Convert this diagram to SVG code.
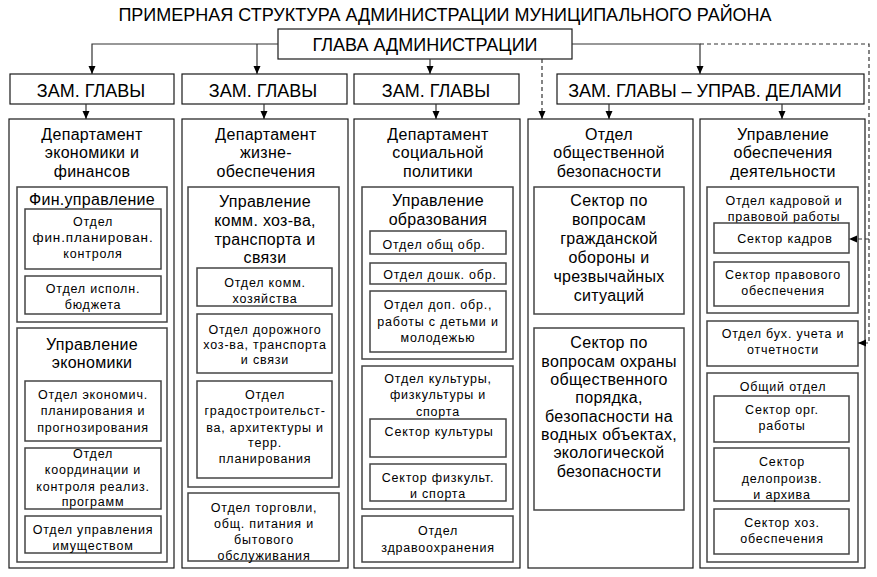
<svg xmlns="http://www.w3.org/2000/svg" width="877" height="577" viewBox="0 0 877 577">
<style>
text{font-family:"Liberation Sans",Arial,sans-serif;fill:#000;text-anchor:middle}
.h{font-size:18px}
.m{font-size:16px;letter-spacing:0.3px}
.s{font-size:12.5px;letter-spacing:0.8px}
.outer{fill:#fff;stroke:#1a1a1a;stroke-width:1.2}
.box{fill:#fff;stroke:#444;stroke-width:1.5}
.ln{fill:none;stroke:#333;stroke-width:1.2}
.dash{fill:none;stroke:#333;stroke-width:1.2;stroke-dasharray:4 3}
</style>
<defs>
<marker id="ah" markerWidth="8" markerHeight="8" refX="8" refY="3.5" orient="auto" markerUnits="userSpaceOnUse"><path d="M0,0 L8,3.5 L0,7 z" fill="#000"/></marker>
</defs>
<rect width="877" height="577" fill="#fff"/>
<text id="title" class="h" x="445" y="21">ПРИМЕРНАЯ СТРУКТУРА АДМИНИСТРАЦИИ МУНИЦИПАЛЬНОГО РАЙОНА</text>

<g id="head">
<rect class="outer" x="278" y="29" width="294" height="30"/>
<text class="h" x="425" y="51">ГЛАВА АДМИНИСТРАЦИИ</text>
</g>
<g id="deputy1"><rect class="outer" x="10" y="74" width="164" height="30"/><text class="h" x="91" y="97">ЗАМ. ГЛАВЫ</text></g>
<g id="deputy2"><rect class="outer" x="182" y="74" width="165" height="30"/><text class="h" x="263" y="97">ЗАМ. ГЛАВЫ</text></g>
<g id="deputy3"><rect class="outer" x="354" y="74" width="165" height="30"/><text class="h" x="436" y="97">ЗАМ. ГЛАВЫ</text></g>
<g id="deputy4"><rect class="outer" x="557" y="74" width="307" height="30"/><text class="h" x="705" y="97">ЗАМ. ГЛАВЫ – УПРАВ. ДЕЛАМИ</text></g>

<!-- Column 1 -->
<g id="dep-econ">
<rect class="outer" x="9" y="119" width="165" height="449"/>
<text class="m" x="92" y="139.5">Департамент</text>
<text class="m" x="92" y="158">экономики и</text>
<text class="m" x="92" y="176.5">финансов</text>
</g>
<g id="fin-upr">
<rect class="box" x="17" y="187" width="150" height="135"/>
<text class="m" x="92" y="205">Фин.управление</text>
</g>
<g id="otd-finplan">
<rect class="box" x="25" y="209" width="136" height="60"/>
<text class="s" x="93" y="226">Отдел</text>
<text class="s" x="93" y="242" textLength="121" lengthAdjust="spacingAndGlyphs">фин.планирован.</text>
<text class="s" x="93" y="258">контроля</text>
</g>
<g id="otd-ispoln">
<rect class="box" x="25" y="276" width="136" height="38"/>
<text class="s" x="93" y="292.5">Отдел исполн.</text>
<text class="s" x="93" y="308.5">бюджета</text>
</g>
<g id="upr-econ">
<rect class="box" x="17" y="328" width="150" height="234"/>
<text class="m" x="92" y="349.5">Управление</text>
<text class="m" x="92" y="368">экономики</text>
</g>
<g id="otd-econplan">
<rect class="box" x="25" y="381" width="136" height="60"/>
<text class="s" x="93" y="398.5">Отдел экономич.</text>
<text class="s" x="93" y="415">планирования и</text>
<text class="s" x="93" y="431.5">прогнозирования</text>
</g>
<g id="otd-koord">
<rect class="box" x="25" y="448" width="136" height="61"/>
<text class="s" x="93" y="458">Отдел</text>
<text class="s" x="93" y="474">координации и</text>
<text class="s" x="93" y="490.5">контроля реализ.</text>
<text class="s" x="93" y="506">программ</text>
</g>
<g id="otd-imush">
<rect class="box" x="25" y="516" width="136" height="37"/>
<text class="s" x="93" y="534">Отдел управления</text>
<text class="s" x="93" y="550">имуществом</text>
</g>

<!-- Column 2 -->
<g id="dep-zhizn">
<rect class="outer" x="182" y="119" width="166" height="449"/>
<text class="m" x="266" y="139.5">Департамент</text>
<text class="m" x="266" y="158">жизне-</text>
<text class="m" x="266" y="176.5">обеспечения</text>
</g>
<g id="upr-komm">
<rect class="box" x="188" y="187" width="151" height="300"/>
<text class="m" x="265" y="206.5">Управление</text>
<text class="m" x="265" y="225.5">комм. хоз-ва,</text>
<text class="m" x="265" y="244.5">транспорта и</text>
<text class="m" x="265" y="263">связи</text>
</g>
<g id="otd-komm">
<rect class="box" x="197" y="268" width="135" height="38"/>
<text class="s" x="265" y="287">Отдел комм.</text>
<text class="s" x="265" y="303">хозяйства</text>
</g>
<g id="otd-dor">
<rect class="box" x="197" y="314" width="135" height="59"/>
<text class="s" x="265" y="333.5">Отдел дорожного</text>
<text class="s" x="265" y="348.5">хоз-ва, транспорта</text>
<text class="s" x="265" y="363.5">и связи</text>
</g>
<g id="otd-grad">
<rect class="box" x="197" y="381" width="135" height="97"/>
<text class="s" x="265" y="398.5">Отдел</text>
<text class="s" x="265" y="415">градостроительст-</text>
<text class="s" x="265" y="431.5">ва, архитектуры и</text>
<text class="s" x="265" y="447">терр.</text>
<text class="s" x="265" y="462.5">планирования</text>
</g>
<g id="otd-torg">
<rect class="box" x="188" y="493" width="151" height="68"/>
<text class="s" x="264" y="511.5">Отдел торговли,</text>
<text class="s" x="264" y="527.5">общ. питания и</text>
<text class="s" x="264" y="543.5">бытового</text>
<text class="s" x="264" y="559.5">обслуживания</text>
</g>

<!-- Column 3 -->
<g id="dep-soc">
<rect class="outer" x="354" y="119" width="166" height="449"/>
<text class="m" x="438" y="139.5">Департамент</text>
<text class="m" x="438" y="158">социальной</text>
<text class="m" x="438" y="176.5">политики</text>
</g>
<g id="upr-obr">
<rect class="box" x="362" y="187" width="151" height="172"/>
<text class="m" x="438" y="205.5">Управление</text>
<text class="m" x="438" y="224.5">образования</text>
</g>
<g id="otd-obsh">
<rect class="box" x="370" y="231" width="136" height="23"/>
<text class="s" x="434" y="249">Отдел общ обр.</text>
</g>
<g id="otd-doshk">
<rect class="box" x="370" y="263" width="136" height="21"/>
<text class="s" x="440" y="279">Отдел дошк. обр.</text>
</g>
<g id="otd-dop">
<rect class="box" x="370" y="291" width="136" height="61"/>
<text class="s" x="438" y="308.5">Отдел доп. обр.,</text>
<text class="s" x="438" y="325.5">работы с детьми и</text>
<text class="s" x="438" y="342">молодежью</text>
</g>
<g id="otd-kult">
<rect class="box" x="362" y="366" width="151" height="143"/>
<text class="s" x="438" y="382.5">Отдел культуры,</text>
<text class="s" x="438" y="399">физкультуры и</text>
<text class="s" x="438" y="415.5">спорта</text>
</g>
<g id="sek-kult">
<rect class="box" x="370" y="419" width="136" height="38"/>
<text class="s" x="439" y="436">Сектор культуры</text>
</g>
<g id="sek-fiz">
<rect class="box" x="370" y="464" width="136" height="37"/>
<text class="s" x="438" y="481.5">Сектор физкульт.</text>
<text class="s" x="438" y="497.5">и спорта</text>
</g>
<g id="otd-zdrav">
<rect class="box" x="362" y="516" width="151" height="46"/>
<text class="s" x="438" y="535">Отдел</text>
<text class="s" x="438" y="551.5">здравоохранения</text>
</g>

<!-- Column 4 -->
<g id="otd-bez">
<rect class="outer" x="528" y="119" width="165" height="449"/>
<text class="m" x="609" y="139.5">Отдел</text>
<text class="m" x="609" y="158">общественной</text>
<text class="m" x="609" y="176.5">безопасности</text>
</g>
<g id="sek-go">
<rect class="box" x="534" y="187" width="150" height="127"/>
<text class="m" x="609" y="206">Сектор по</text>
<text class="m" x="609" y="225">вопросам</text>
<text class="m" x="609" y="244">гражданской</text>
<text class="m" x="609" y="263">обороны и</text>
<text class="m" x="609" y="281.5">чрезвычайных</text>
<text class="m" x="609" y="300.5">ситуаций</text>
</g>
<g id="sek-ohr">
<rect class="box" x="534" y="328" width="150" height="182"/>
<text class="m" x="609" y="348.3">Сектор по</text>
<text class="m" x="609" y="366.7">вопросам охраны</text>
<text class="m" x="609" y="385">общественного</text>
<text class="m" x="609" y="403.4">порядка,</text>
<text class="m" x="609" y="421.7">безопасности на</text>
<text class="m" x="609" y="440">водных объектах,</text>
<text class="m" x="609" y="458.4">экологической</text>
<text class="m" x="609" y="476.7">безопасности</text>
</g>

<!-- Column 5 -->
<g id="upr-obesp">
<rect class="outer" x="700" y="119" width="165" height="449"/>
<text class="m" x="783" y="139.5">Управление</text>
<text class="m" x="783" y="158">обеспечения</text>
<text class="m" x="783" y="176.5">деятельности</text>
</g>
<g id="otd-kadr">
<rect class="box" x="707" y="187" width="151" height="126"/>
<text class="s" x="784" y="204.5">Отдел кадровой и</text>
<text class="s" x="784" y="220.5">правовой работы</text>
</g>
<g id="sek-kadr">
<rect class="box" x="714" y="223" width="135" height="30"/>
<text class="s" x="785" y="243">Сектор кадров</text>
</g>
<g id="sek-prav">
<rect class="box" x="714" y="262" width="135" height="44"/>
<text class="s" x="783" y="278.5">Сектор правового</text>
<text class="s" x="783" y="294.5">обеспечения</text>
</g>
<g id="otd-buh">
<rect class="box" x="707" y="321" width="151" height="45"/>
<text class="s" x="783" y="337.5">Отдел бух. учета и</text>
<text class="s" x="783" y="353.5">отчетности</text>
</g>
<g id="obsh-otd">
<rect class="box" x="707" y="373" width="151" height="189"/>
<text class="s" x="783" y="391">Общий отдел</text>
</g>
<g id="sek-org">
<rect class="box" x="714" y="396" width="135" height="46"/>
<text class="s" x="782" y="414">Сектор орг.</text>
<text class="s" x="782" y="429.5">работы</text>
</g>
<g id="sek-delo">
<rect class="box" x="714" y="448" width="135" height="53"/>
<text class="s" x="782" y="466">Сектор</text>
<text class="s" x="782" y="482.5">делопроизв.</text>
<text class="s" x="782" y="498.5">и архива</text>
</g>
<g id="sek-hoz">
<rect class="box" x="714" y="509" width="135" height="45"/>
<text class="s" x="782" y="526.5">Сектор хоз.</text>
<text class="s" x="782" y="542.5">обеспечения</text>
</g>

<g id="connectors">
<path class="ln" d="M278,44 H92 V74" marker-end="url(#ah)"/>
<path class="ln" d="M257,44 V74" marker-end="url(#ah)"/>
<path class="ln" d="M430,59 V74" marker-end="url(#ah)"/>
<path class="ln" d="M572,44 H700 V74" marker-end="url(#ah)"/>
<path class="dash" d="M700,44 H869 V343 H858" marker-end="url(#ah)"/>
<path class="dash" d="M869,239 H849" marker-end="url(#ah)"/>
<path class="dash" d="M542,59 V119" marker-end="url(#ah)"/>
<path class="ln" d="M86,104 V119" marker-end="url(#ah)"/>
<path class="ln" d="M264,104 V119" marker-end="url(#ah)"/>
<path class="ln" d="M436,104 V119" marker-end="url(#ah)"/>
<path class="ln" d="M609,104 V119" marker-end="url(#ah)"/>
<path class="ln" d="M782,104 V119" marker-end="url(#ah)"/>
</g>
</svg>
